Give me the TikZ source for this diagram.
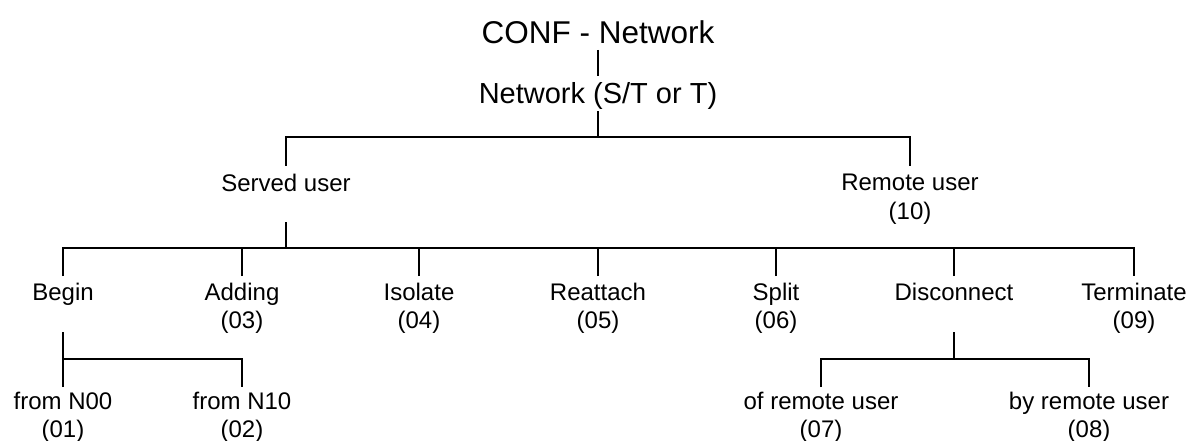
\documentclass[tikz,border=0pt]{standalone}
\usepackage{fontspec}
\setmainfont{Liberation Sans}
\begin{document}
\begin{tikzpicture}[x=1pt, y=-1pt, line width=2pt,
        main/.style = {font=\fontsize{24}{28.5}\selectfont, align=center, anchor=north, inner sep=0pt}]
    \useasboundingbox (0,0) rectangle (1189,441);
    \node[main, font=\fontsize{31.5}{36}\selectfont] at (598,20) (conf) {CONF - Network};
    \node[main, font=\fontsize{29}{34}\selectfont] at (598,81) (net) {Network (S/T or T)};
    \node[main] at (286,173) (served) {Served user};
    \node[main] at (910,173) (remote) {Remote user\\(10)};
    \node[main] at (63,282) (begin) {Begin};
    \node[main] at (242,282) (adding) {Adding\\(03)};
    \node[main] at (419,282) (isolate) {Isolate\\(04)};
    \node[main] at (598,282) (reattach) {Reattach\\(05)};
    \node[main] at (776,282) (split) {Split\\(06)};
    \node[main] at (954,282) (disconnect) {Disconnect};
    \node[main] at (1134,282) (terminate) {Terminate\\(09)};
    \node[main] at (63,391) (n00) {from N00\\(01)};
    \node[main] at (242,391) (n10) {from N10\\(02)};
    \node[main] at (821,391) (ofremote) {of remote user\\(07)};
    \node[main] at (1089,391) (byremote) {by remote user\\(08)};
    % junctions
    \coordinate (j1) at (598,137);
    \coordinate (j2) at (286,248);
    \coordinate (j3) at (63,359);
    \coordinate (j4) at (954,359);
    \draw ([yshift=-6pt]conf.base) -- ([yshift=5pt]net.north);
    \draw ([yshift=-8pt]net.base) -- (j1);
    \draw ([yshift=7pt]served.north) |- (j1) -| ([yshift=7pt]remote.north);
    \draw ([yshift=-31pt]served.base) -- (j2);
    \draw ([yshift=6pt]begin.north) |- (j2) -| ([yshift=6pt]terminate.north);
    \foreach \n in {adding,isolate,reattach,split,disconnect}
        \draw ([yshift=6pt]\n.north) -- (\n.north |- j2);
    \draw ([yshift=-32pt]begin.base) -- (j3);
    \draw ([yshift=4pt]n00.north) |- (j3) -| ([yshift=4pt]n10.north);
    \draw ([yshift=-32pt]disconnect.base) -- (j4);
    \draw ([yshift=4pt]ofremote.north) |- (j4) -| ([yshift=4pt]byremote.north);
\end{tikzpicture}
\end{document}
